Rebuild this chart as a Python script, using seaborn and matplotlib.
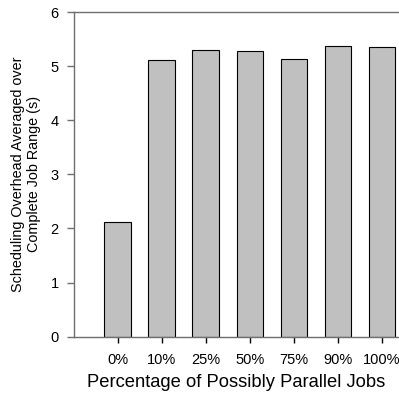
import matplotlib
matplotlib.use("Agg")
import matplotlib.pyplot as plt
import seaborn as sns

# Percentage of jobs that may run in parallel
categories = ["0%", "10%", "25%", "50%", "75%", "90%", "100%"]
# Scheduling overhead averaged over the complete job range, in seconds
overhead = [2.12, 5.12, 5.29, 5.28, 5.14, 5.37, 5.35]
y_ticks = [0, 1, 2, 3, 4, 5, 6]

sns.set_style("ticks")
plt.rcParams["font.family"] = ["Liberation Sans", "DejaVu Sans"]
plt.rcParams["text.color"] = "black"
plt.rcParams["axes.labelcolor"] = "black"
plt.rcParams["xtick.labelcolor"] = "black"
plt.rcParams["ytick.labelcolor"] = "black"

fig = plt.figure(figsize=(3.99, 3.96), dpi=100)
ax = fig.add_axes([74 / 399, 59.3 / 396, 325 / 399, 324.7 / 396])

sns.barplot(x=categories, y=overhead, order=categories, color="#c0c0c0",
            saturation=1, edgecolor="black", linewidth=0.8, width=0.6, ax=ax)

ax.set_xlim(-0.993, 6.393)
ax.set_ylim(0, 6)
ax.set_yticks(y_ticks)
ax.set_yticklabels([str(v) for v in y_ticks])

spine_color = "#6e6e6e"
for side in ("left", "bottom", "top"):
    ax.spines[side].set_color(spine_color)
    ax.spines[side].set_linewidth(1.0)
ax.spines["right"].set_visible(False)

ax.tick_params(axis="y", direction="out", length=5, width=1, color=spine_color,
               labelsize=10.5, pad=6, labelcolor="black")
ax.tick_params(axis="x", direction="out", length=4, width=1, color="black",
               labelsize=10.5, pad=8, labelcolor="black")

ax.set_xlabel("Percentage of Possibly Parallel Jobs", fontsize=13.2, labelpad=5,
              color="black")
ax.set_ylabel("Scheduling Overhead Averaged over\nComplete Job Range (s)",
              fontsize=10.4, labelpad=7, linespacing=1.2, color="black")

fig.savefig("out.png", dpi=100)
